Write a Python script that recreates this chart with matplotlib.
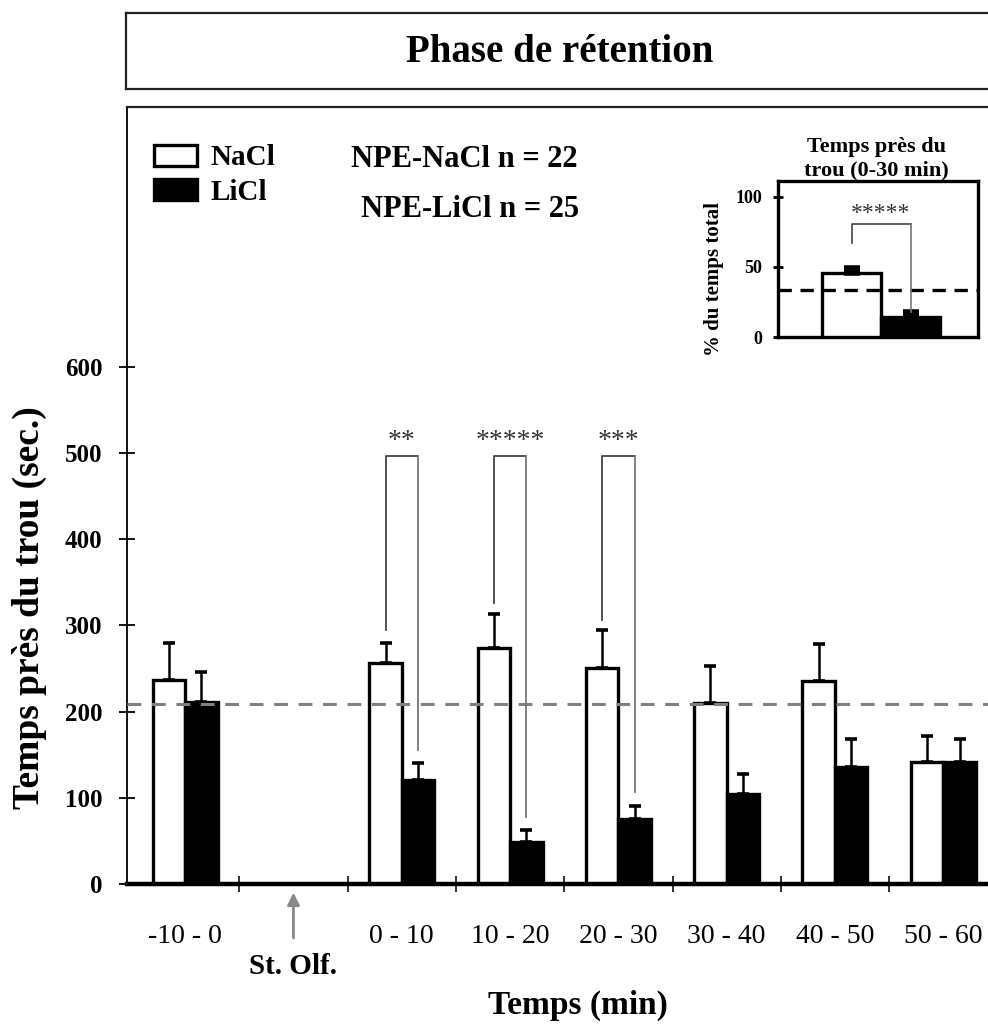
import matplotlib
matplotlib.use("Agg")
import matplotlib.pyplot as plt
import numpy as np

plt.rcParams['font.family'] = ['Liberation Serif', 'DejaVu Serif']

# ---- data ----
labels = ['-10 - 0', '0 - 10', '10 - 20', '20 - 30', '30 - 40', '40 - 50', '50 - 60']
slots = [0, 2, 3, 4, 5, 6, 7]          # slot 1 is left empty for the olfactory stimulus
nacl_mean = [237, 257, 274, 251, 210, 236, 142]
nacl_sem = [43, 23, 39, 44, 43, 43, 30]
licl_mean = [211, 121, 49, 75, 105, 136, 142]
licl_sem = [35, 19, 14, 16, 23, 32, 26]
chance_level = 209

sig_labels = ['0 - 10', '10 - 20', '20 - 30']
sig_stars = ['**', '*****', '***']
sig_left = [295, 326, 306]     # where the bracket legs start (sec.)
sig_right = [155, 78, 107]
sig_top = 497

inset_mean = [45.5, 14]
inset_sem = [3.6, 3.8]
inset_chance = 33.3

W, H = 988, 1027
fig = plt.figure(figsize=(W / 100, H / 100), dpi=100)

# ---- title box ----
tax = fig.add_axes([126 / W, 1 - 89 / H, 0.9, 76 / H])
tax.set_xticks([])
tax.set_yticks([])
for s in tax.spines.values():
    s.set_linewidth(1.6)
    s.set_color('#222222')
fig.text(560 / W, 1 - 52 / H, 'Phase de rétention', ha='center', va='center',
         fontsize=28, fontweight='bold')

# ---- main axes ----
ax = fig.add_axes([127 / W, 143 / H, (W - 127) / W, 777 / H])
ax.set_xlim(-0.537, 7.413)
ax.set_ylim(0, 901.7)

x = np.array(slots, dtype=float)
bw = 0.3
ax.bar(x - bw / 2, nacl_mean, bw, facecolor='white', edgecolor='black', lw=2.4, zorder=3, label='NaCl')
ax.bar(x + bw / 2, licl_mean, bw, facecolor='black', edgecolor='black', lw=2.4, zorder=3, label='LiCl')
ax.errorbar(x - bw / 2, nacl_mean, yerr=[np.zeros(len(x)), nacl_sem], fmt='none',
            ecolor='black', elinewidth=1.8, capsize=4.5, capthick=2.6, zorder=4)
ax.errorbar(x + bw / 2, licl_mean, yerr=[np.zeros(len(x)), licl_sem], fmt='none',
            ecolor='black', elinewidth=1.8, capsize=4.5, capthick=2.6, zorder=4)

ax.axhline(chance_level, color='#808080', lw=2.2, ls=(0, (4.5, 3.5)), zorder=5)

# significance brackets
for lab, st, yl, yr in zip(sig_labels, sig_stars, sig_left, sig_right):
    c = slots[labels.index(lab)]
    x0, x1 = c - bw / 2, c + bw / 2
    ax.plot([x0, x0, x1], [yl, sig_top, sig_top], color='#444444', lw=1.3, zorder=6)
    ax.plot([x1, x1], [sig_top, yr], color='#777777', lw=1.3, zorder=6)
    ax.text(c, sig_top + 2, st, ha='center', va='bottom', fontsize=20, color='#333333')

# spines and ticks
ax.spines['right'].set_visible(False)
ax.spines['left'].set_linewidth(1.3)
ax.spines['top'].set_linewidth(1.6)
ax.spines['top'].set_color('#222222')
ax.spines['bottom'].set_linewidth(3.2)
ax.spines['bottom'].set_zorder(7)

ax.set_yticks(range(0, 700, 100))
ax.tick_params(axis='y', direction='inout', length=11, width=1.3, pad=12, labelsize=18)
for t in ax.get_yticklabels():
    t.set_fontweight('bold')

ax.set_xticks(np.arange(0.5, 7, 1.0))
ax.set_xticklabels([])
ax.tick_params(axis='x', which='major', direction='inout', length=11, width=1.4, color='#333333')
ax.set_xticks(slots, labels, minor=True)
ax.tick_params(axis='x', which='minor', length=0, pad=29, labelsize=20)

ax.set_ylabel('Temps près du trou (sec.)', fontsize=27, fontweight='bold', va='center')
ax.yaxis.set_label_coords(-0.113, 0.356)
ax.set_xlabel('Temps (min)', fontsize=24, fontweight='bold', va='center')
ax.xaxis.set_label_coords(0.524, -0.156)

# olfactory stimulus arrow
ax.annotate('St. Olf.', xy=(1, -10), xytext=(1, -96), ha='center', va='center',
            fontsize=21, fontweight='bold', annotation_clip=False,
            arrowprops=dict(arrowstyle='-|>', color='#888888', lw=2, mutation_scale=18,
                            shrinkB=0, shrinkA=9))

ax.legend(loc='upper left', bbox_to_anchor=(0.031, 0.952), frameon=False,
          prop={'weight': 'bold', 'size': 21}, handlelength=1.5, handleheight=0.72,
          handletextpad=0.45, labelspacing=0.25, borderpad=0, borderaxespad=0)

ax.text(0.392, 0.933, 'NPE-NaCl n = 22', transform=ax.transAxes, ha='center', va='center',
        fontsize=22, fontweight='bold')
ax.text(0.398, 0.868, 'NPE-LiCl n = 25', transform=ax.transAxes, ha='center', va='center',
        fontsize=22, fontweight='bold')

# ---- inset: 0-30 min summary ----
iax = fig.add_axes([778 / W, 1 - 337 / H, 200 / W, 156 / H])
iax.set_xlim(0, 1)
iax.set_ylim(0, 111.4)
ix = [0.22, 0.515]
iw = 0.295
iax.bar(ix[0], inset_mean[0], iw, align='edge', facecolor='white', edgecolor='black', lw=2.4, zorder=3)
iax.bar(ix[1], inset_mean[1], iw, align='edge', facecolor='black', edgecolor='black', lw=2.4, zorder=3)
icx = [ix[0] + iw / 2, ix[1] + iw / 2]
iax.errorbar(icx, inset_mean, yerr=[[0, 0], inset_sem], fmt='none', ecolor='black',
             elinewidth=2, capsize=6, capthick=4, zorder=4)
iax.axhline(inset_chance, color='black', lw=2.4, ls=(0, (4, 2.6)), zorder=5)
iax.plot([icx[0], icx[0], icx[1]], [67, 81, 81], color='#444444', lw=1.2, zorder=6)
iax.plot([icx[1], icx[1]], [81, 18], color='#777777', lw=1.2, zorder=6)
iax.text(0.5 * (icx[0] + icx[1]), 81, '*****', ha='center', va='bottom', fontsize=17, color='#333333')
for s in iax.spines.values():
    s.set_linewidth(2.4)
iax.set_xticks([])
iax.set_yticks([0, 50, 100])
iax.tick_params(axis='y', direction='inout', length=7, width=2, pad=8, labelsize=13)
for t in iax.get_yticklabels():
    t.set_fontweight('bold')
iax.set_ylabel('% du temps total', fontsize=15, fontweight='bold', va='center')
iax.yaxis.set_label_coords(-0.32, 0.37)
iax.set_title('Temps près du\ntrou (0-30 min)', fontsize=16, fontweight='bold',
              linespacing=1.25, pad=4, x=0.49)

fig.savefig('out.png', dpi=100)
